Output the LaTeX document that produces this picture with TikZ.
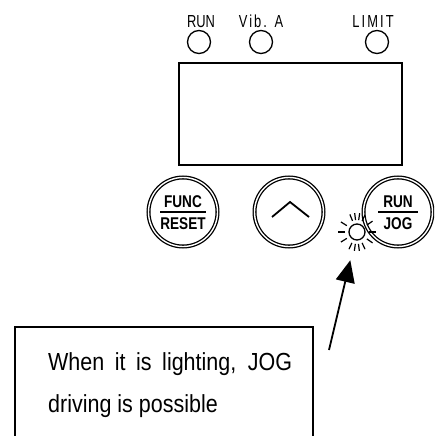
\documentclass[tikz,border=0pt]{standalone}
\usepackage{fontspec}
\usepackage{tikz}
\usetikzlibrary{arrows.meta,positioning}
\newfontfamily\ledfont[FakeStretch=0.74]{Liberation Sans}
\newfontfamily\ledwidefont[FakeStretch=0.74,LetterSpace=12]{Liberation Sans}
\newfontfamily\keyfont[FakeStretch=0.8]{Liberation Sans Bold}
\newfontfamily\notefont[FakeStretch=0.87]{Liberation Sans}
\newcommand{\keypair}[3]{%
  \setlength{\arrayrulewidth}{1.8pt}%
  \begin{tabular}{@{\hspace{#3}}c@{\hspace{#3}}}\rule{0pt}{19pt}#1\\[-2pt]\hline\rule{0pt}{17pt}#2\end{tabular}}
\tikzset{
  led/.style={circle,draw,line width=1.3pt,minimum size=23pt,inner sep=0pt,outer sep=0pt},
  ledlabel/.style={inner sep=0pt,font=\fontsize{17.4pt}{18pt}\ledfont},
  ledwide/.style={inner sep=0pt,font=\fontsize{17.4pt}{18pt}\ledwidefont},
  screen/.style={rectangle,draw,line width=1.5pt,minimum width=223pt,minimum height=102pt,anchor=north west,outer sep=0pt},
  panelkey/.style={circle,draw,double,double distance=1.4pt,line width=1.3pt,minimum size=69pt,inner sep=0pt,outer sep=0pt,font=\fontsize{17pt}{18pt}\keyfont},
  sunled/.style={circle,draw,line width=1.3pt,minimum size=16pt,inner sep=0pt,outer sep=0pt},
  ray/.style={line width=1.2pt},
  notebox/.style={rectangle,draw,line width=1.8pt,minimum width=298pt,minimum height=140pt,anchor=north west,outer sep=0pt},
  notetext/.style={inner sep=0pt,align=left,font=\fontsize{24.7pt}{42pt}\notefont},
  callout/.style={-{Triangle[length=22pt,width=19pt]},line width=1.8pt,shorten >=21pt},
}

\begin{document}
\begin{tikzpicture}[x=1pt,y=1pt,node distance=3pt]
  \useasboundingbox (0,-436) rectangle (434,0);
  \clip (0,-436) rectangle (434,0);

  % status lamps
  \node[led] (ledrun) at (199,-42) {};
  \node[led] (ledvib) at (261,-42) {};
  \node[led] (ledlimit) at (377,-42) {};
  \node[ledlabel, above=of ledrun, xshift=2pt] (lblrun) {RUN};
  \node[ledwide, above=of ledvib] (lblvib) {Vib. A};
  \node[ledwide, above=of ledlimit, xshift=-4pt] (lbllimit) {LIMIT};

  % display
  \node[screen] (screen) at (179,-63) {};

  % keys
  \node[panelkey] (func) at (183,-212) {\keypair{FUNC}{RESET}{0pt}};
  \node[panelkey, right=37pt of func] (up) {};
  \node[panelkey, right=40pt of up] (runjog) {\keypair{RUN}{JOG}{5pt}};
  \draw[line width=1.8pt] ([shift={(-17,-5)}]up.center) -- ([shift={(1,10)}]up.center) -- ([shift={(20,-5)}]up.center);

  % lit lamp
  \node[sunled, fill=white] (sun) at (357,-232) {};
  \foreach \a in {0,35,65,82,97,112,148,180,212,245,262,277,295,325}
    \draw[ray] ([shift={(\a:12)}]sun.center) -- ([shift={(\a:19)}]sun.center);

  % note
  \node[notebox] (note) at (15,-327) {};
  \node[notetext, anchor=base west] (notetext) at (48,-412) {\makebox[244pt][s]{When it is lighting, JOG}\\driving is possible};
  \coordinate (tail) at (329,-350);
  \draw[callout] (tail) -- (sun);
\end{tikzpicture}
\end{document}
